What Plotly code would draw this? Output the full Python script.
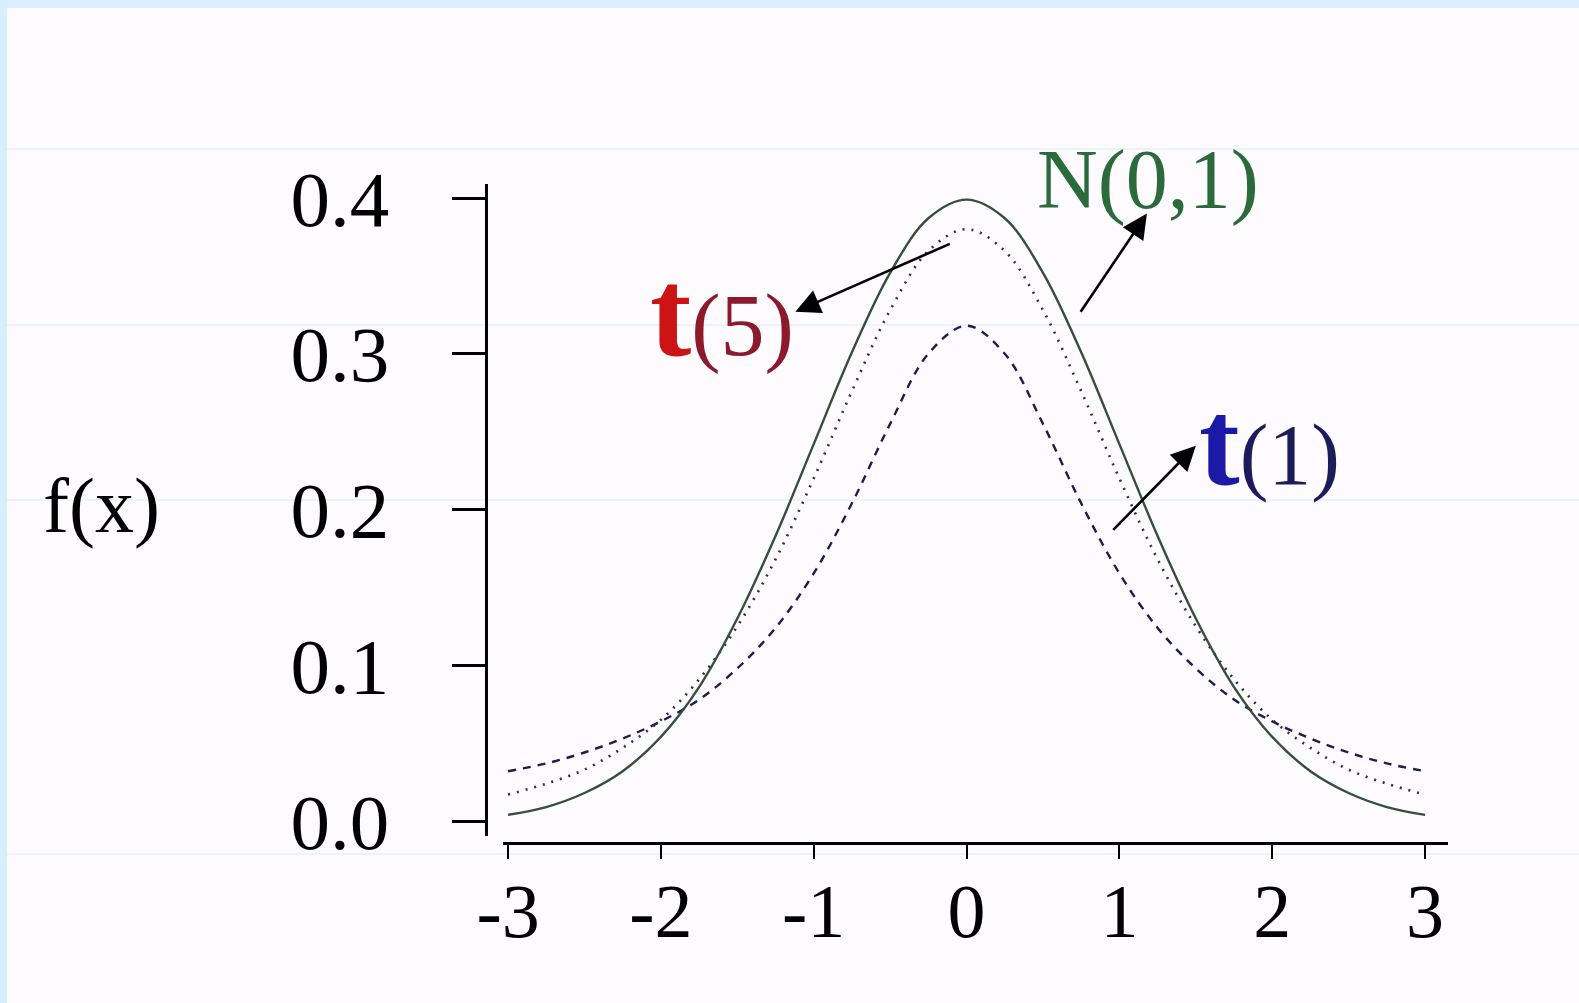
import plotly.graph_objects as go

# ---- data ----
x_vals = [-3.0, -2.75, -2.5, -2.25, -2.0, -1.75, -1.5, -1.25, -1.0, -0.75, -0.5, -0.25,
          0.0, 0.25, 0.5, 0.75, 1.0, 1.25, 1.5, 1.75, 2.0, 2.25, 2.5, 2.75, 3.0]
normal_01 = [0.004, 0.009, 0.018, 0.032, 0.054, 0.086, 0.130, 0.183, 0.242, 0.301, 0.352, 0.387,
             0.399, 0.387, 0.352, 0.301, 0.242, 0.183, 0.130, 0.086, 0.054, 0.032, 0.018, 0.009, 0.004]
t_5 = [0.017, 0.024, 0.033, 0.047, 0.065, 0.091, 0.125, 0.168, 0.220, 0.276, 0.328, 0.366,
       0.380, 0.366, 0.328, 0.276, 0.220, 0.168, 0.125, 0.091, 0.065, 0.047, 0.033, 0.024, 0.017]
t_1 = [0.032, 0.037, 0.044, 0.053, 0.064, 0.078, 0.098, 0.124, 0.159, 0.204, 0.255, 0.300,
       0.318, 0.300, 0.255, 0.204, 0.159, 0.124, 0.098, 0.078, 0.064, 0.053, 0.044, 0.037, 0.032]

x_ticks = [-3, -2, -1, 0, 1, 2, 3]
x_tick_labels = ["-3", "-2", "-1", "0", "1", "2", "3"]
y_ticks = [0.0, 0.1, 0.2, 0.3, 0.4]
y_tick_labels = ["0.0", "0.1", "0.2", "0.3", "0.4"]

W, H = 1579, 1003
SERIF = "Liberation Serif"
BG = "#fdfbfe"

fig = go.Figure()
fig.add_trace(go.Scatter(x=x_vals, y=t_1, mode="lines", line=dict(color="#1c1c50", width=2.4, dash="8px,7px", shape="spline"),
                         name="t(1)", showlegend=False))
fig.add_trace(go.Scatter(x=x_vals, y=t_5, mode="lines", line=dict(color="#3a2a3c", width=2.6, dash="2px,7px", shape="spline"),
                         name="t(5)", showlegend=False))
fig.add_trace(go.Scatter(x=x_vals, y=normal_01, mode="lines", line=dict(color="#34503a", width=2.4, shape="spline"),
                         name="N(0,1)", showlegend=False))

# pixel geometry of the plot
x_left_px, x_right_px = 503, 1448
y_top_px, y_bot_px = 184, 836
xr = [-3.033, 3.15]
yr = [-0.0096, 0.409]

fig.update_layout(
    template="none",
    width=W, height=H, autosize=False,
    margin=dict(l=0, r=0, t=0, b=0, pad=0),
    paper_bgcolor=BG, plot_bgcolor="rgba(0,0,0,0)",
    font=dict(family=SERIF, color="black"),
    xaxis=dict(domain=[x_left_px / W, x_right_px / W], range=xr, showgrid=False, zeroline=False,
               automargin=False,
               showline=True, linecolor="black", linewidth=3,
               anchor="free", position=1 - 843 / H,
               tickmode="array", tickvals=x_ticks, ticktext=x_tick_labels,
               ticks="outside", ticklen=14, tickwidth=2, tickcolor="black",
               ticklabelstandoff=-13,
               tickfont=dict(family=SERIF, size=76, color="black")),
    yaxis=dict(domain=[1 - y_bot_px / H, 1 - y_top_px / H], range=yr, showgrid=False, zeroline=False,
               automargin=False,
               showline=True, linecolor="black", linewidth=3,
               anchor="free", position=486 / W,
               tickmode="array", tickvals=y_ticks, ticktext=y_tick_labels,
               ticks="outside", ticklen=33, tickwidth=3, tickcolor="black",
               ticklabelstandoff=47,
               tickfont=dict(family=SERIF, size=79, color="black")),
)

# background decorations (slide frame)
shapes = [
    dict(type="rect", xref="paper", yref="paper", x0=0, x1=1, y0=1 - 8 / H, y1=1,
         fillcolor="#d9effe", line=dict(width=0), layer="below"),
    dict(type="rect", xref="paper", yref="paper", x0=0, x1=7 / W, y0=0, y1=1,
         fillcolor="#d6eefe", line=dict(width=0), layer="below"),
]
for py in [149, 325, 500, 854]:
    shapes.append(dict(type="line", xref="paper", yref="paper", x0=7 / W, x1=1, y0=1 - py / H, y1=1 - py / H,
                       line=dict(color="#e3f1fc", width=1.5), layer="below"))
fig.update_layout(shapes=shapes)

arrow_style = dict(showarrow=True, arrowhead=2, arrowsize=1.9, arrowwidth=2.6, arrowcolor="black",
                   xref="x", yref="y", axref="x", ayref="y", text="", standoff=0, startstandoff=0)
# arrows: head (x, y), tail (ax, ay)
fig.add_annotation(x=-1.12, y=0.327, ax=-0.10, ay=0.371, **arrow_style)
fig.add_annotation(x=1.18, y=0.390, ax=0.74, ay=0.326, **arrow_style)
fig.add_annotation(x=1.50, y=0.241, ax=0.95, ay=0.186, **arrow_style)

# labels
fig.add_annotation(x=1148 / W, y=1 - 180 / H, xref="paper", yref="paper", showarrow=False,
                   xanchor="center", yanchor="middle",
                   text="N(0,1)", font=dict(family=SERIF, size=84, color="#2b6a3a"))
fig.add_annotation(x=-1.60, y=0.326, xref="x", yref="y", showarrow=False,
                   xanchor="center", yanchor="middle",
                   text="<b>t</b><span style='font-size:88px;color:#8c1a2c'>(5)</span>",
                   font=dict(family=SERIF, size=124, color="#cc1414"))
fig.add_annotation(x=1.98, y=0.243, xref="x", yref="y", showarrow=False,
                   xanchor="center", yanchor="middle",
                   text="<b>t</b><span style='font-size:86px;color:#1c1c5a'>(1)</span>",
                   font=dict(family=SERIF, size=122, color="#1a1aa6"))
fig.add_annotation(x=101 / W, y=1 - 505 / H, xref="paper", yref="paper", showarrow=False,
                   xanchor="center", yanchor="middle",
                   text="f(x)", font=dict(family=SERIF, size=78, color="black"))

fig.write_html("out.html", config={"displayModeBar": False},
               post_script="document.body.style.margin='0';document.body.style.overflow='hidden';")
